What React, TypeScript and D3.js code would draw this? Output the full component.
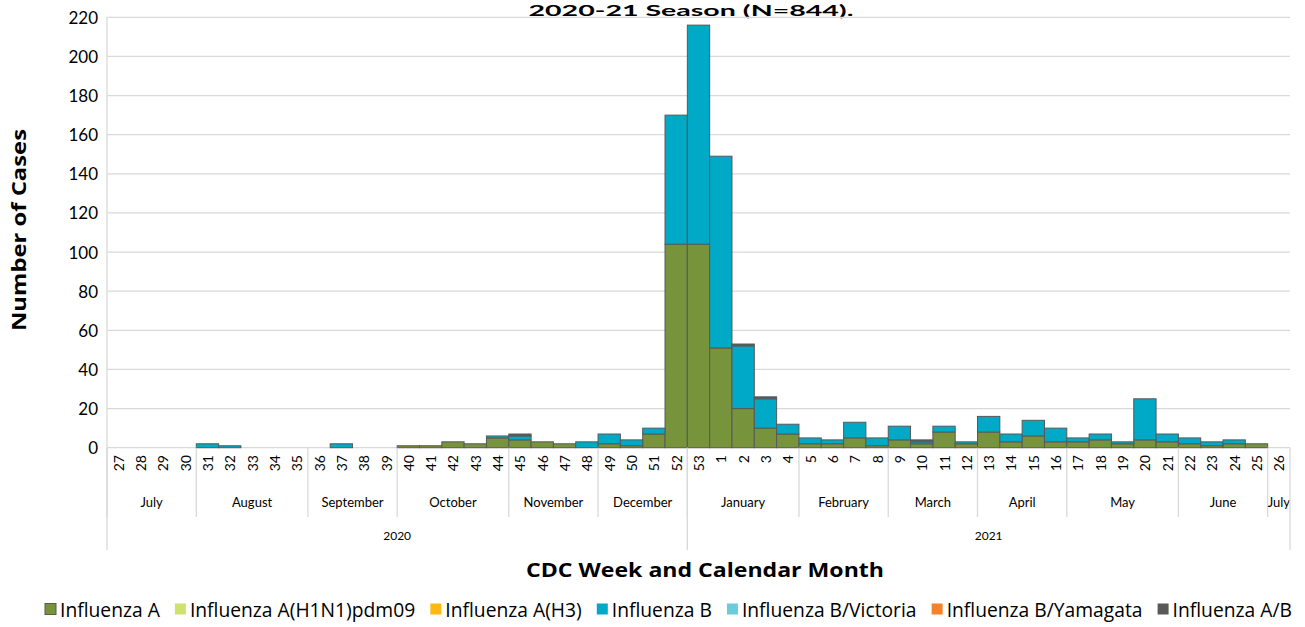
import React from "react";
import * as d3 from "d3";

const weeks: number[] = [27,28,29,30,31,32,33,34,35,36,37,38,39,40,41,42,43,44,45,46,47,48,49,50,51,52,53,1,2,3,4,5,6,7,8,9,10,11,12,13,14,15,16,17,18,19,20,21,22,23,24,25,26];

// values per week, same order as weeks
const influenzaA: number[] = [0,0,0,0,0,0,0,0,0,0,0,0,0,1,1,3,2,5,4,3,2,0,2,1,7,104,104,51,20,10,7,2,2,5,1,4,2,8,2,8,3,6,3,3,4,2,4,3,2,1,2,2,0];
const influenzaH1N1: number[] = new Array(53).fill(0);
const influenzaH3: number[] = new Array(53).fill(0);
const influenzaB: number[] = [0,0,0,0,2,1,0,0,0,0,2,0,0,0,0,0,0,1,2,0,0,3,5,3,3,66,112,98,32,15,5,3,2,8,4,7,1,3,1,8,4,8,7,2,3,1,21,4,3,2,2,0,0];
const influenzaBVictoria: number[] = new Array(53).fill(0);
const influenzaBYamagata: number[] = new Array(53).fill(0);
const influenzaAB: number[] = [0,0,0,0,0,0,0,0,0,0,0,0,0,0,0,0,0,0,1,0,0,0,0,0,0,0,0,0,1,1,0,0,0,0,0,0,1,0,0,0,0,0,0,0,0,0,0,0,0,0,0,0,0];

const seriesNames: string[] = ["Influenza A","Influenza A(H1N1)pdm09","Influenza A(H3)","Influenza B","Influenza B/Victoria","Influenza B/Yamagata","Influenza A/B"];
const seriesColors: string[] = ["#77933C","#CFE26D","#FDB913","#00A9C6","#6CCBDB","#F4822A","#595959"];

const monthNames: string[] = ["July","August","September","October","November","December","January","February","March","April","May","June","July"];
const monthWeekCounts: number[] = [4,5,4,5,4,4,5,4,4,4,5,4,1];
const yearNames: string[] = ["2020","2021"];
const yearWeekCounts: number[] = [26,27];

const yTicks: number[] = [0,20,40,60,80,100,120,140,160,180,200,220];

const FONT = "Lato, 'Open Sans', sans-serif";
const TFONT = "'Open Sans', Lato, sans-serif";

function measure(text: string, font: string): number {
  const c = document.createElement("canvas").getContext("2d");
  if (!c) return text.length * 8;
  c.font = font;
  return c.measureText(text).width;
}

export default function App() {
  const W = 1305, H = 627;
  const left = 107, right = 1290;
  const idx = weeks.map((_, i) => i);
  const x = d3.scaleBand<number>().domain(idx).range([left, right]).paddingInner(0).paddingOuter(0);
  const y = d3.scaleLinear().domain([0, 220]).range([447.7, 17.3]);

  const allSeries = [influenzaA, influenzaH1N1, influenzaH3, influenzaB, influenzaBVictoria, influenzaBYamagata, influenzaAB];
  const rows = idx.map(i => {
    const r: any = { i };
    seriesNames.forEach((n, k) => { r[n] = allSeries[k][i]; });
    return r;
  });
  const stacked = d3.stack<any>().keys(seriesNames)(rows);

  const monthBounds: { name: string; start: number; end: number }[] = [];
  let s = 0;
  monthWeekCounts.forEach((c, k) => { monthBounds.push({ name: monthNames[k], start: s, end: s + c }); s += c; });
  const yearBounds: { name: string; start: number; end: number }[] = [];
  s = 0;
  yearWeekCounts.forEach((c, k) => { yearBounds.push({ name: yearNames[k], start: s, end: s + c }); s += c; });
  const bw = x.bandwidth();
  const xAt = (k: number) => left + k * bw;

  const sw = 11, gap1 = 4, gap2 = 15;
  const baseSize = 16;
  const baseWidths = seriesNames.map(n => measure(n, `${baseSize}px ${TFONT}`));
  const fixed = seriesNames.length * (sw + gap1) + (seriesNames.length - 1) * gap2;
  const avail = 1292 - 45 - fixed;
  const sumW = baseWidths.reduce((a, b) => a + b, 0);
  const k0 = Math.max(0.85, Math.min(1.3, avail / sumW));
  const legSize = baseSize * k0;
  const legItems: { name: string; color: string; x: number }[] = [];
  let lx = 45;
  seriesNames.forEach((n, k) => { legItems.push({ name: n, color: seriesColors[k], x: lx }); lx += sw + gap1 + baseWidths[k] * k0 + gap2; });

  const grid = "#D9D9D9";
  return (
    <svg width={W} height={H} style={{ position: "absolute", left: 0, top: 0, background: "#fff" }} fontFamily={FONT}>
      <text x={691} y={16} textAnchor="middle" fontWeight="bold" fontSize={16} fontFamily={FONT} fill="#000" textLength={325} lengthAdjust="spacingAndGlyphs">2020-21 Season (N=844).</text>
      {yTicks.map(t => (
        <g key={t}>
          <line x1={left} x2={right} y1={y(t)} y2={y(t)} stroke={grid} strokeWidth={1.3} />
          <text x={98} y={y(t)} textAnchor="end" dominantBaseline="central" fontSize={17} fill="#000">{t}</text>
        </g>
      ))}
      <line x1={left} x2={left} y1={y(220)} y2={y(0)} stroke={grid} strokeWidth={1.3} />
      {stacked.map((layer, k) => (
        <g key={layer.key} fill={seriesColors[k]}>
          {layer.map((d, i) => (d[1] - d[0] > 0 ? (
            <rect key={i} x={x(i)!} width={bw} y={y(d[1])} height={y(d[0]) - y(d[1])} stroke="#595959" strokeWidth={1} />
          ) : null))}
        </g>
      ))}
      {weeks.map((w, i) => (
        <text key={i} transform={`translate(${x(i)! + bw / 2},455) rotate(-90)`} textAnchor="end" dominantBaseline="central" fontSize={14} fill="#000">{w}</text>
      ))}
      {monthBounds.map((m, k) => (
        <g key={k}>
          <line x1={xAt(m.start)} x2={xAt(m.start)} y1={447.7} y2={517} stroke={grid} strokeWidth={1.3} />
          <text x={(xAt(m.start) + xAt(m.end)) / 2} y={502} textAnchor="middle" dominantBaseline="central" fontSize={13} fill="#000">{m.name}</text>
        </g>
      ))}
      <line x1={right} x2={right} y1={447.7} y2={550} stroke={grid} strokeWidth={1.3} />
      {yearBounds.map((yb, k) => (
        <g key={k}>
          <line x1={xAt(yb.start)} x2={xAt(yb.start)} y1={447.7} y2={550} stroke={grid} strokeWidth={1.3} />
          <text x={(xAt(yb.start) + xAt(yb.end)) / 2} y={535} textAnchor="middle" dominantBaseline="central" fontSize={12} fill="#000">{yb.name}</text>
        </g>
      ))}
      <text x={705} y={569} textAnchor="middle" dominantBaseline="central" fontWeight="bold" fontSize={20} fontFamily={TFONT} fill="#000" textLength={358} lengthAdjust="spacingAndGlyphs">CDC Week and Calendar Month</text>
      <text transform="translate(19,230) rotate(-90)" textAnchor="middle" dominantBaseline="central" fontWeight="bold" fontSize={19} fontFamily={TFONT} fill="#000" textLength={202} lengthAdjust="spacingAndGlyphs">Number of Cases</text>
      {legItems.map((it, k) => (
        <g key={k}>
          <rect x={it.x} y={603.5} width={sw} height={sw} fill={it.color} stroke={k === 0 ? "#595959" : "none"} strokeWidth={1} />
          <text x={it.x + sw + gap1} y={609} dominantBaseline="central" fontSize={legSize} fontFamily={TFONT} fill="#000">{it.name}</text>
        </g>
      ))}
    </svg>
  );
}
